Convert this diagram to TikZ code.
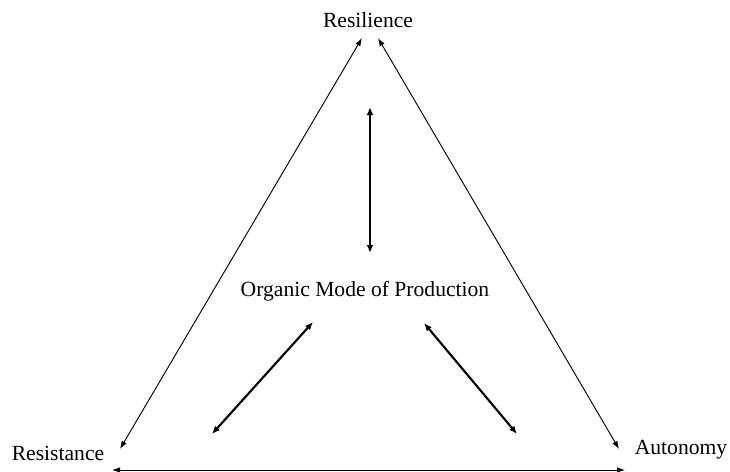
\documentclass[tikz,border=0pt]{standalone}
\usepackage{fontspec}
\setmainfont{Liberation Serif}
\usetikzlibrary{arrows.meta}
\begin{document}
\begin{tikzpicture}[x=0.75pt,y=-0.75pt,
  label text/.style={font=\fontsize{16.2}{19}\selectfont, inner sep=0pt},
  outer link/.style={line width=0.7pt, {Latex[length=6pt,width=4.2pt]}-{Latex[length=6pt,width=4.2pt]}},
  inner link/.style={line width=1.6pt, {Latex[length=6pt,width=5pt]}-{Latex[length=6pt,width=5pt]}}]
  \useasboundingbox (0,0) rectangle (730,471);

  % the three corners and the centre
  \node[label text] (resilience) at (368,20) {Resilience};
  \node[label text] (resistance) at (58,453) {Resistance};
  \node[label text] (autonomy)   at (681,450) {Autonomy};
  \node[label text] (omp)        at (365,291) {Organic Mode of Production};

  % end points of the outer triangle
  \coordinate (r1) at (362,38);
  \coordinate (r2) at (378,38);
  \coordinate (s1) at (120,449);
  \coordinate (s2) at (112,470);
  \coordinate (a1) at (619,449);
  \coordinate (a2) at (625,470);

  % end points of the inner links
  \coordinate (c0) at (370,107);
  \coordinate (c1) at (370,253);
  \coordinate (l0) at (313,322);
  \coordinate (l1) at (212,434);
  \coordinate (k0) at (424,323);
  \coordinate (k1) at (517,434);

  \draw[outer link] (r1) -- (s1);
  \draw[outer link] (r2) -- (a1);
  \draw[outer link] (s2) -- (a2);

  \draw[inner link] (c0) -- (c1);
  \draw[inner link] (l0) -- (l1);
  \draw[inner link] (k0) -- (k1);
\end{tikzpicture}
\end{document}
